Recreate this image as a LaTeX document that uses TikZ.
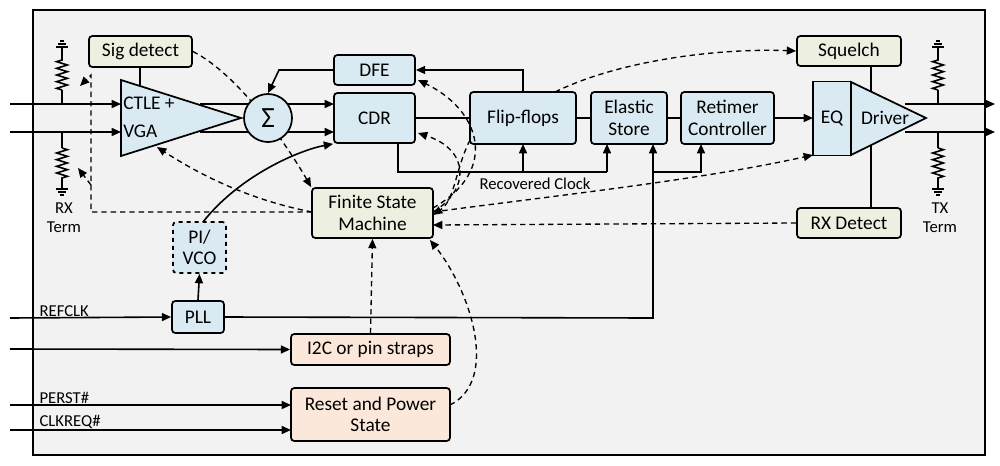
\documentclass[tikz,border=0pt]{standalone}
\usepackage{fontspec}
\setmainfont{Carlito}
\usetikzlibrary{arrows.meta,decorations.pathmorphing,calc}
\definecolor{bl}{HTML}{DAEAF3}
\definecolor{gr}{HTML}{EDF0E1}
\definecolor{orf}{HTML}{FCE8DA}
\begin{document}
\begin{tikzpicture}[x=0.75pt,y=-0.75pt,
  font=\fontsize{14.5}{16}\selectfont,
  box/.style={draw,line width=1.3pt,rounded corners=2.5pt,inner sep=0},
  ar/.style={-{Triangle[length=7pt,width=6pt]},line width=1.2pt},
  ln/.style={line width=1.2pt},
  da/.style={-{Triangle[length=7pt,width=6pt]},line width=1pt,dash pattern=on 4pt off 3pt},
  lab/.style={font=\fontsize{12.5}{14.5}\selectfont},
  res/.style={line width=1.2pt,decorate,decoration={zigzag,segment length=5pt,amplitude=4pt}}]
\useasboundingbox (0,0) rectangle (1000,465);
\draw[line width=2pt,fill=black!5] (33,10) rectangle (985,455);
% boxes
\node[box,fill=gr,minimum width=103*0.75pt,minimum height=31*0.75pt] (sig) at (140.5,51.5) {Sig detect};
\node[box,fill=bl,minimum width=81*0.75pt,minimum height=30*0.75pt] (dfe) at (374.5,70) {DFE};
\node[box,fill=bl,minimum width=81*0.75pt,minimum height=50*0.75pt] (cdr) at (374.5,118) {CDR};
\node[box,fill=bl,minimum width=106*0.75pt,minimum height=52*0.75pt] (ff) at (523,118) {Flip-flops};
\node[box,fill=bl,minimum width=76*0.75pt,minimum height=52*0.75pt,align=center] (es) at (629,118) {Elastic\\Store};
\node[box,fill=bl,minimum width=93*0.75pt,minimum height=52*0.75pt,align=center] (rc) at (727.5,118) {Retimer\\Controller};
\node[box,fill=gr,minimum width=104*0.75pt,minimum height=30*0.75pt] (sq) at (849,51) {Squelch};
\node[box,fill=gr,minimum width=104*0.75pt,minimum height=30*0.75pt] (rxd) at (849,223) {RX Detect};
\node[box,fill=gr,minimum width=121*0.75pt,minimum height=50*0.75pt,align=center] (fsm) at (372.5,213) {Finite State\\Machine};
\node[box,fill=bl,dashed,minimum width=53*0.75pt,minimum height=51*0.75pt,align=center] (pi) at (199.5,247.5) {PI/\\VCO};
\node[box,fill=bl,minimum width=52*0.75pt,minimum height=32*0.75pt] (pll) at (198,317) {PLL};
\node[box,fill=orf,minimum width=159*0.75pt,minimum height=31*0.75pt] (i2c) at (370.5,349.5) {I2C or pin straps};
\node[box,fill=orf,minimum width=159*0.75pt,minimum height=53*0.75pt,align=center] (rst) at (370.5,414.5) {Reset and Power\\State};
% sig detect to CTLE
\draw[ln] (140,67) -- (140,90);
\draw[da] (sig.east) .. controls (240,75) and (290,150) .. (fsm.north west);
% CTLE
\draw[line width=1.3pt,fill=bl] (121,80) -- (241,118) -- (121,156) -- cycle;
\node[anchor=west,inner sep=0] (ctle) at (123,103) {CTLE +};
\node[anchor=west,inner sep=0] (vga) at (123,131) {VGA};
\coordinate (i1) at (10,104); \coordinate (i2) at (10,132);
\draw[ar] (i1) -- (121,104);
\draw[ar] (i2) -- (121,132);
\draw[ln] (200,104) -- (248,104); \draw[ln] (200,132) -- (248,132);
\node[circle,draw,line width=1.3pt,fill=bl,minimum size=48*0.75pt,inner sep=0,font=\fontsize{22}{22}\selectfont] (sum) at (268,118) {Σ};
\draw[ar] (288,104) -- (334,104);
\draw[ar] (288,132) -- (334,132);
\draw[ar] (dfe.west) -- (279,70) -- (sum.north);
% RX term
\draw[ln] (62,104) -- (62,90); \draw[res] (62,90) -- (62,58); \draw[ln] (62,58) -- (62,47);
\draw[ln] (56,47)--(68,47) (58,44)--(66,44) (60,41)--(64,41);
\draw[ln] (62,132) -- (62,148); \draw[res] (62,148) -- (62,180); \draw[ln] (62,180) -- (62,189);
\draw[ln] (56,189)--(68,189) (58,192)--(66,192) (60,195)--(64,195);
\node (rxt) at (64,218) [align=center,lab] {RX\\Term};
% main chain
\draw[ln] (cdr.east) -- (ff.west); \draw[ln] (ff.east) -- (es.west); \draw[ln] (es.east) -- (rc.west);
\draw[ar] (rc.east) -- (813,118);
\draw[ar] (523,92) -- (523,70) -- (dfe.east);
% EQ + driver
\draw[line width=1.3pt,fill=bl] (851,82) -- (926,118) -- (851,155) -- cycle;
\node[box,fill=bl,rounded corners=0,minimum width=38*0.75pt,minimum height=74*0.75pt] (eq) at (832,118.5) {EQ};
\node[inner sep=0] (drv) at (885,118) {Driver};
\draw[ar] (905,104) -- (995,104); \draw[ar] (905,132) -- (995,132);
\draw[ln] (871,66) -- (871,92); \draw[ln] (871,208) -- (871,145);
\draw[ln] (938,104) -- (938,90); \draw[res] (938,90) -- (938,58); \draw[ln] (938,58) -- (938,47);
\draw[ln] (932,47)--(944,47) (934,44)--(942,44) (936,41)--(940,41);
\draw[ln] (938,132) -- (938,148); \draw[res] (938,148) -- (938,180); \draw[ln] (938,180) -- (938,189);
\draw[ln] (932,189)--(944,189) (934,192)--(942,192) (936,195)--(940,195);
\node (txt) at (940,218) [align=center,lab] {TX\\Term};
% clocks
\draw[ln] (398,144) -- (398,172) -- (607,172);
\draw[ar] (523,172) -- (523,144);
\draw[ar] (607,172) -- (607,144);
\node[lab] (rcl) at (535,184) {Recovered Clock};
\draw[ar] (pll.east) -- (653,318) -- (653,144);
\draw[ar] (653,172) -- (701,172) -- (701,144);
\draw[ar] (pll.north) -- (pi.south);
\draw[ar] (203,222) .. controls (240,175) and (300,150) .. (cdr.south west);
% inputs
\coordinate (rf) at (10,318); \coordinate (i2cin) at (10,349);
\coordinate (pe) at (10,405); \coordinate (ck) at (10,430);
\draw[ar] (rf) -- (pll.west);
\node[anchor=south west,lab,inner sep=1pt] (rfl) at (38,318) {REFCLK};
\draw[ar] (i2cin) -- (i2c.west);
\draw[ar] (pe) -- (291,405);
\node[anchor=south west,lab,inner sep=1pt] (pel) at (38,405) {PERST\#};
\draw[ar] (ck) -- (291,430);
\node[anchor=south west,lab,inner sep=1pt] (ckl) at (38,430) {CLKREQ\#};
% dashed control
\draw[da] (i2c.north) -- (fsm.south);
\draw[da] (450,405) .. controls (500,380) and (470,290) .. (430,240);
\draw[da] (312,212) -- (91,212) -- (91,75) -- (80,86);
\draw[da] (91,185) -- (78,168);
\draw[da] (312,212) .. controls (250,200) and (200,175) .. (157,147);
\draw[da] (433,208) .. controls (500,170) and (480,110) .. (418,80);
\draw[da] (433,212) .. controls (470,190) and (470,150) .. (418,133);
\draw[da] (470,140) .. controls (455,170) and (455,200) .. (433,215);
\draw[da] (555,92) .. controls (620,60) and (720,48) .. (sq.west);
\draw[da] (433,212) .. controls (560,195) and (700,180) .. (813,155);
\draw[da] (rxd.west) -- (433,225);
\end{tikzpicture}
\end{document}
